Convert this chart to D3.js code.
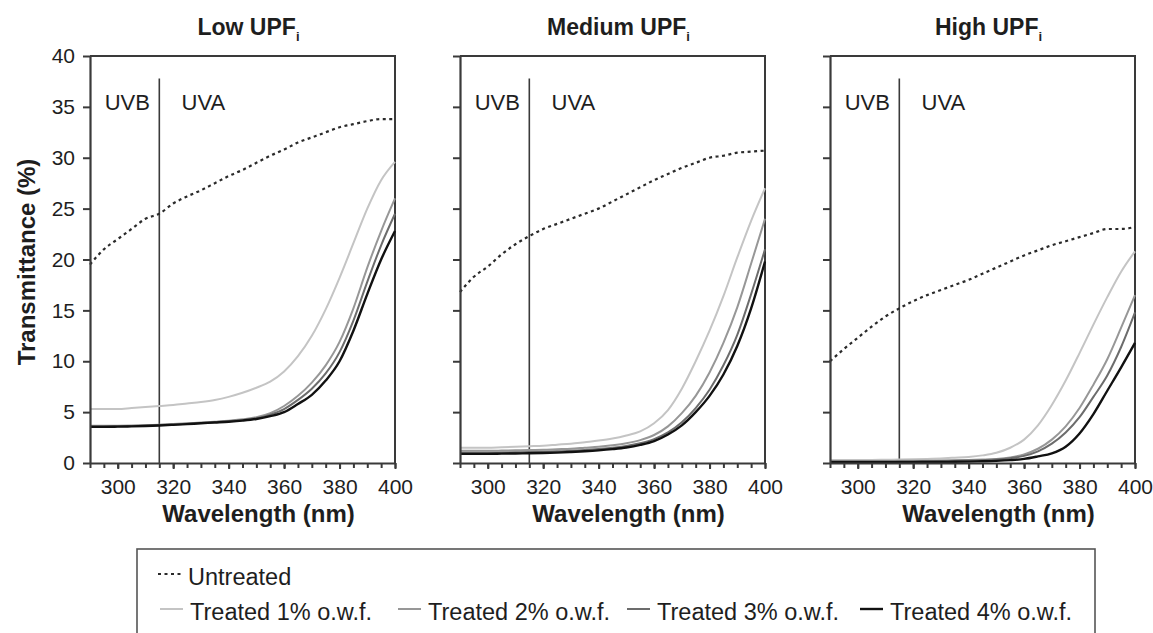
<!DOCTYPE html>
<html>
<head>
<meta charset="utf-8">
<script src="https://cdn.jsdelivr.net/npm/d3@7"></script>
<style>
  body { margin: 0; background: #fff; }
  svg text { font-family: Arial, "Liberation Sans", sans-serif; fill: #1e1e1e; }
</style>
</head>
<body>
<div id="chart-container"></div>
<script>
// Wavelength grid (nm)
const wavelengths = [290, 295, 300, 305, 310, 315, 320, 325, 330, 335, 340, 345, 350, 355, 360, 365, 370, 375, 380, 385, 390, 395, 400];

// Low UPF_i
const lowUntreated = [19.5, 21.0, 22.0, 23.0, 24.0, 24.5, 25.5, 26.2, 26.8, 27.5, 28.2, 28.8, 29.5, 30.2, 30.8, 31.5, 32.0, 32.5, 33.0, 33.3, 33.6, 33.8, 33.8];
const lowT1 = [5.3, 5.3, 5.3, 5.4, 5.5, 5.6, 5.7, 5.85, 6.0, 6.2, 6.5, 6.9, 7.4, 8.0, 9.0, 10.5, 12.5, 15.1, 18.2, 21.6, 25.0, 27.8, 29.6];
const lowT2 = [3.65, 3.65, 3.66, 3.68, 3.72, 3.77, 3.83, 3.9, 3.98, 4.06, 4.15, 4.3, 4.5, 4.9, 5.6, 6.6, 7.9, 9.6, 11.9, 15.2, 19.2, 22.8, 26.0];
const lowT3 = [3.6, 3.6, 3.62, 3.64, 3.68, 3.73, 3.79, 3.86, 3.94, 4.02, 4.1, 4.22, 4.4, 4.75, 5.3, 6.2, 7.3, 8.8, 10.9, 14.0, 17.8, 21.4, 24.5];
const lowT4 = [3.55, 3.55, 3.57, 3.6, 3.64, 3.69, 3.75, 3.82, 3.9, 3.98, 4.06, 4.17, 4.33, 4.6, 5.0, 5.8, 6.7, 8.1, 10.0, 13.0, 16.6, 20.0, 22.8];

// Medium UPF_i
const medUntreated = [16.8, 18.3, 19.3, 20.5, 21.5, 22.3, 23.0, 23.5, 24.0, 24.5, 25.0, 25.7, 26.4, 27.1, 27.8, 28.4, 29.0, 29.5, 30.0, 30.2, 30.5, 30.6, 30.7];
const medT1 = [1.5, 1.5, 1.5, 1.55, 1.6, 1.65, 1.7, 1.8, 1.9, 2.05, 2.2, 2.4, 2.7, 3.1, 3.9, 5.2, 7.3, 10.0, 13.0, 16.4, 20.2, 23.8, 27.0];
const medT2 = [1.2, 1.2, 1.2, 1.22, 1.25, 1.28, 1.3, 1.35, 1.4, 1.5, 1.6, 1.75, 1.95, 2.25, 2.75, 3.6, 4.9, 6.6, 8.9, 11.8, 15.3, 19.6, 24.0];
const medT3 = [1.0, 1.0, 1.0, 1.02, 1.05, 1.08, 1.1, 1.15, 1.2, 1.28, 1.38, 1.5, 1.68, 1.95, 2.35, 3.0, 4.0, 5.4, 7.2, 9.6, 12.6, 16.6, 21.0];
const medT4 = [0.9, 0.9, 0.9, 0.92, 0.94, 0.96, 0.98, 1.02, 1.08, 1.15, 1.24, 1.36, 1.52, 1.78, 2.15, 2.8, 3.7, 5.0, 6.6, 8.7, 11.5, 15.2, 19.8];

// High UPF_i
const highUntreated = [10.0, 11.2, 12.3, 13.4, 14.4, 15.2, 15.9, 16.5, 17.0, 17.5, 18.0, 18.6, 19.2, 19.8, 20.4, 20.9, 21.4, 21.8, 22.2, 22.6, 23.0, 23.0, 23.2];
const highT1 = [0.3, 0.3, 0.3, 0.3, 0.32, 0.34, 0.36, 0.4, 0.45, 0.52, 0.6, 0.75, 1.0, 1.5, 2.3, 3.7, 5.7, 8.1, 10.8, 13.6, 16.3, 18.8, 20.8];
const highT2 = [0.2, 0.2, 0.2, 0.2, 0.2, 0.21, 0.22, 0.23, 0.25, 0.27, 0.3, 0.34, 0.4, 0.55, 0.85, 1.4, 2.3, 3.6, 5.4, 7.7, 10.2, 13.3, 16.5];
const highT3 = [0.15, 0.15, 0.15, 0.15, 0.15, 0.16, 0.17, 0.18, 0.19, 0.21, 0.24, 0.28, 0.34, 0.47, 0.7, 1.15, 1.9, 3.0, 4.5, 6.5, 8.6, 11.4, 14.8];
const highT4 = [0.08, 0.08, 0.08, 0.08, 0.08, 0.09, 0.09, 0.1, 0.11, 0.12, 0.14, 0.17, 0.21, 0.28, 0.4, 0.65, 0.95, 1.6, 2.9, 4.8, 7.1, 9.4, 11.8];

// Labels and ticks
const panelTitles = ["Low UPF", "Medium UPF", "High UPF"];
const seriesNames = ["Untreated", "Treated 1% o.w.f.", "Treated 2% o.w.f.", "Treated 3% o.w.f.", "Treated 4% o.w.f."];
const xTicks = [300, 320, 340, 360, 380, 400];
const yTicks = [0, 5, 10, 15, 20, 25, 30, 35, 40];
const uvBoundary = 315;

const panelData = [
    [lowUntreated, lowT1, lowT2, lowT3, lowT4],
    [medUntreated, medT1, medT2, medT3, medT4],
    [highUntreated, highT1, highT2, highT3, highT4]
];

// Styles per series
const colors = ["#2a2a2a", "#c4c4c4", "#979797", "#6c6c6c", "#111111"];
const widths = [2.2, 2, 2, 2, 2.4];

// Layout
const panelLeft = [90, 460, 830];
const panelWidth = 305;
const plotTop = 56, plotBottom = 463;

const svg = d3.select("#chart-container")
    .append("svg")
    .attr("width", 1153)
    .attr("height", 633);

const y = d3.scaleLinear().domain([0, 40]).range([plotBottom, plotTop]);

panelData.forEach(function(series, p) {
    const x = d3.scaleLinear()
        .domain([290, 400])
        .range([panelLeft[p], panelLeft[p] + panelWidth]);

    const g = svg.append("g");

    // frame (top and right)
    g.append("path")
        .attr("d", "M" + x(290) + "," + y(40) + "H" + x(400) + "V" + y(0))
        .attr("fill", "none")
        .attr("stroke", "#3a3a3a")
        .attr("stroke-width", 2);

    // UVB / UVA divider
    g.append("line")
        .attr("x1", x(uvBoundary)).attr("x2", x(uvBoundary))
        .attr("y1", y(37.8)).attr("y2", y(0))
        .attr("stroke", "#3a3a3a")
        .attr("stroke-width", 1.6);

    g.append("text")
        .attr("x", x(295.3))
        .attr("y", 110)
        .style("font-size", "22px")
        .text("UVB");
    g.append("text")
        .attr("x", x(323))
        .attr("y", 110)
        .style("font-size", "22px")
        .text("UVA");

    // lines
    const line = d3.line()
        .x((d, i) => x(wavelengths[i]))
        .y(d => y(d))
        .curve(d3.curveMonotoneX);

    series.forEach(function(vals, s) {
        g.append("path")
            .datum(vals)
            .attr("fill", "none")
            .attr("stroke", colors[s])
            .attr("stroke-width", widths[s])
            .attr("stroke-dasharray", s === 0 ? "3,3.5" : null)
            .attr("d", line);
    });

    // minor x ticks
    g.append("g")
        .attr("transform", "translate(0," + plotBottom + ")")
        .call(d3.axisBottom(x).tickValues(d3.range(290, 401, 5)).tickSize(5).tickSizeOuter(0).tickFormat(""))
        .call(a => a.select(".domain").remove())
        .call(a => a.selectAll("line").attr("stroke", "#3a3a3a").attr("stroke-width", 2));

    // x axis
    const xAxis = g.append("g")
        .attr("transform", "translate(0," + plotBottom + ")")
        .call(d3.axisBottom(x).tickValues(xTicks).tickSize(6).tickSizeOuter(0).tickPadding(10));
    xAxis.select(".domain").attr("stroke", "#3a3a3a").attr("stroke-width", 2.2);
    xAxis.selectAll("line").attr("stroke", "#3a3a3a").attr("stroke-width", 2);
    xAxis.selectAll("text").style("font-size", "21px").attr("fill", "#1e1e1e");

    // y axis
    const yAxis = g.append("g")
        .attr("transform", "translate(" + panelLeft[p] + ",0)")
        .call(d3.axisLeft(y).tickValues(yTicks).tickSize(7).tickSizeOuter(0).tickPadding(8)
            .tickFormat(p === 0 ? d3.format("d") : ""));
    yAxis.select(".domain").attr("stroke", "#3a3a3a").attr("stroke-width", 2.2);
    yAxis.selectAll("line").attr("stroke", "#3a3a3a").attr("stroke-width", 2);
    yAxis.selectAll("text").style("font-size", "21px").attr("fill", "#1e1e1e");

    // axis title
    g.append("text")
        .attr("x", x(345) + 16)
        .attr("y", 522)
        .attr("text-anchor", "middle")
        .style("font-size", "24px")
        .style("font-weight", "bold")
        .text("Wavelength (nm)");

    // panel title
    const title = g.append("text")
        .attr("x", x(345) + 6)
        .attr("y", 35)
        .attr("text-anchor", "middle")
        .style("font-size", "23px")
        .style("font-weight", "bold");
    title.append("tspan").text(panelTitles[p]);
    title.append("tspan").attr("dy", 6).style("font-size", "13px").text("i");
});

// y label
svg.append("text")
    .attr("transform", "translate(35," + 262 + ") rotate(-90)")
    .attr("text-anchor", "middle")
    .style("font-size", "24px")
    .style("font-weight", "bold")
    .text("Transmittance (%)");

// Legend
const legend = svg.append("g");
legend.append("rect")
    .attr("x", 137).attr("y", 549)
    .attr("width", 958).attr("height", 120)
    .attr("fill", "none")
    .attr("stroke", "#555")
    .attr("stroke-width", 1.6);

const legendPos = [[158, 585], [160, 620], [398, 620], [627, 620], [860, 620]];
seriesNames.forEach(function(name, s) {
    const item = legend.append("g")
        .attr("transform", "translate(" + legendPos[s][0] + "," + legendPos[s][1] + ")");
    item.append("line")
        .attr("x1", 0).attr("x2", 23)
        .attr("y1", -11).attr("y2", -11)
        .attr("stroke", colors[s])
        .attr("stroke-width", widths[s])
        .attr("stroke-dasharray", s === 0 ? "3,3.5" : null);
    item.append("text")
        .attr("x", 30)
        .attr("y", 0)
        .style("font-size", "23.5px")
        .text(name);
});
</script>
</body>
</html>
